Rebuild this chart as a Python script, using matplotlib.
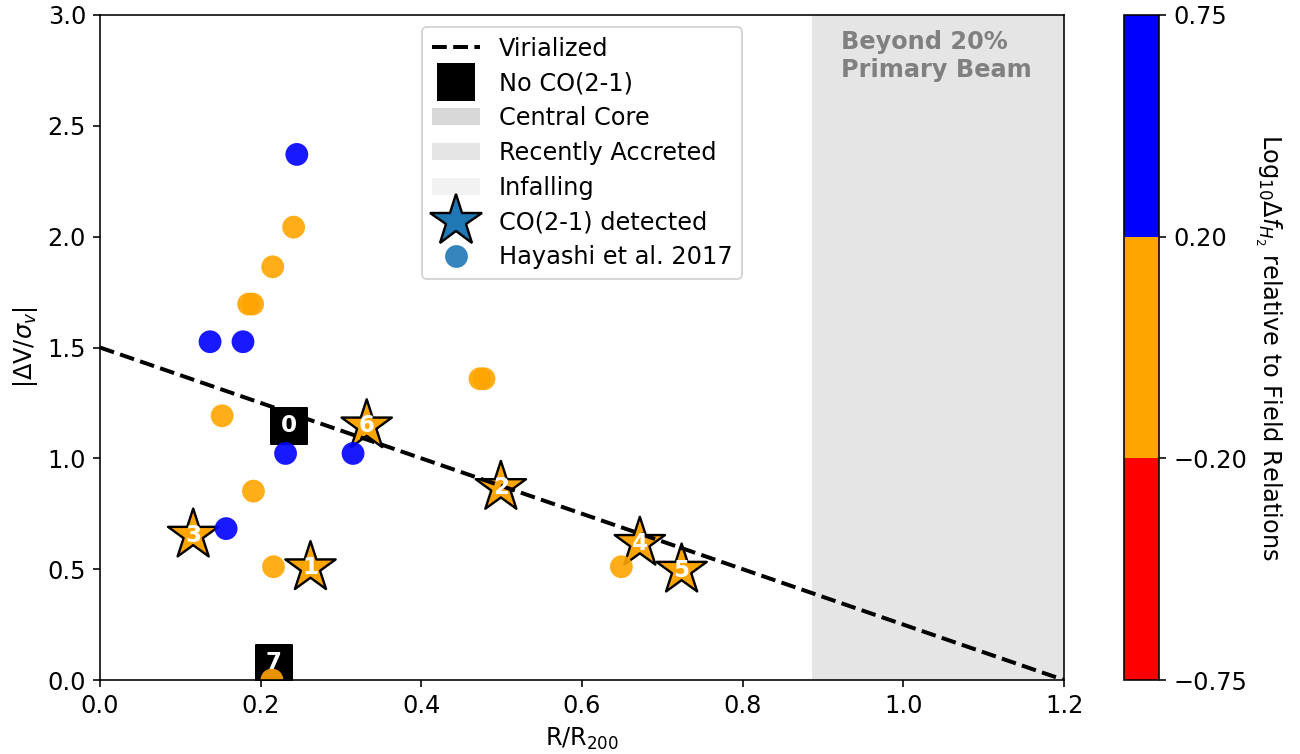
import matplotlib
matplotlib.use("Agg")
from matplotlib import pyplot as plt
from matplotlib.colors import ListedColormap, BoundaryNorm
from matplotlib.lines import Line2D
from matplotlib.patches import Patch
from matplotlib.ticker import FuncFormatter

# Hayashi et al. 2017 galaxies
hay_r = [0.245, 0.137, 0.178, 0.231, 0.315, 0.157,
         0.241, 0.215, 0.185, 0.190, 0.152, 0.473, 0.478, 0.191, 0.216, 0.649, 0.214]
hay_v = [2.371, 1.526, 1.526, 1.022, 1.022, 0.683,
         2.043, 1.864, 1.696, 1.696, 1.192, 1.359, 1.359, 0.852, 0.511, 0.511, 0.0]
hay_df = [0.45, 0.45, 0.45, 0.45, 0.45, 0.45,
          0.0, 0.0, 0.0, 0.0, 0.0, 0.0, 0.0, 0.0, 0.0, 0.0, 0.0]

# CO(2-1) detected
det_id = ["1", "2", "3", "4", "5", "6"]
det_r = [0.262, 0.499, 0.116, 0.672, 0.724, 0.332]
det_v = [0.507, 0.869, 0.654, 0.617, 0.496, 1.147]
det_df = [0.0, 0.0, 0.0, 0.0, 0.0, 0.0]

# no CO(2-1)
non_id = ["0", "7"]
non_r = [0.235, 0.216]
non_v = [1.147, 0.077]

vir_r = [0.0, 1.2]
vir_v = [1.5, 0.0]
beam_edge = 0.886

bounds = [-0.75, -0.2, 0.2, 0.75]
cmap = ListedColormap(["red", "orange", "blue"])
norm = BoundaryNorm(bounds, cmap.N)

plt.rcParams["font.size"] = 12
fig = plt.figure(figsize=(1300 / 144, 754 / 144), dpi=144)
ax = fig.add_axes([100 / 1300, 1 - 680 / 754, 964 / 1300, 665 / 754])
cax = fig.add_axes([1124 / 1300, 1 - 680 / 754, 35 / 1300, 665 / 754])

ax.axvspan(beam_edge, 1.2, color="gray", alpha=0.2, lw=0)
ax.text(0.922, 2.815, "Beyond 20%\nPrimary Beam", ha="left", va="center",
        fontweight="bold", color="gray", fontsize=12)

ax.plot(vir_r, vir_v, "k--", lw=2)

ax.scatter(det_r, det_v, c=det_df, cmap=cmap, norm=norm, marker="*", s=700,
           edgecolors="k", linewidths=1.2)
ax.scatter(non_r, non_v, c="k", marker="s", s=324)
sc = ax.scatter(hay_r, hay_v, c=hay_df, cmap=cmap, norm=norm, marker="o", s=130,
                alpha=0.9, lw=0)

for lab, x, y in zip(det_id + non_id, det_r + non_r, det_v + non_v):
    ax.text(x, y, lab, color="w", fontweight="bold", fontsize=11.5,
            ha="center", va="center", zorder=5)

ax.set_xlim(0, 1.2)
ax.set_ylim(0, 3.0)
ax.set_xlabel(r"R/R$_{200}$")
ax.set_ylabel(r"|$\Delta$V/$\sigma_v$|")

handles = [
    Line2D([], [], color="k", ls="--", lw=2),
    Line2D([], [], color="k", marker="s", ms=18, ls="none"),
    Patch(color="gray", alpha=0.3, lw=0),
    Patch(color="gray", alpha=0.2, lw=0),
    Patch(color="gray", alpha=0.1, lw=0),
    Line2D([], [], marker="*", ms=27, mfc="C0", mec="k", mew=1.2, ls="none"),
    Line2D([], [], marker="o", ms=11.4, color="C0", alpha=0.9, mew=0, ls="none"),
]
labels = ["Virialized", "No CO(2-1)", "Central Core", "Recently Accreted",
          "Infalling", "CO(2-1) detected", "Hayashi et al. 2017"]
ax.legend(handles, labels, loc="upper center", labelspacing=0.45)

cb = fig.colorbar(sc, cax=cax, ticks=bounds, spacing="uniform")
cb.ax.yaxis.set_major_formatter(FuncFormatter(lambda v, p: f"{v:.2f}".replace("-", "\u2212")))
cb.solids.set_alpha(1)
cb.set_label(r"Log$_{10}\Delta f_{H_2}$ relative to Field Relations", rotation=270, labelpad=18)

fig.savefig("out.png", dpi=144)
